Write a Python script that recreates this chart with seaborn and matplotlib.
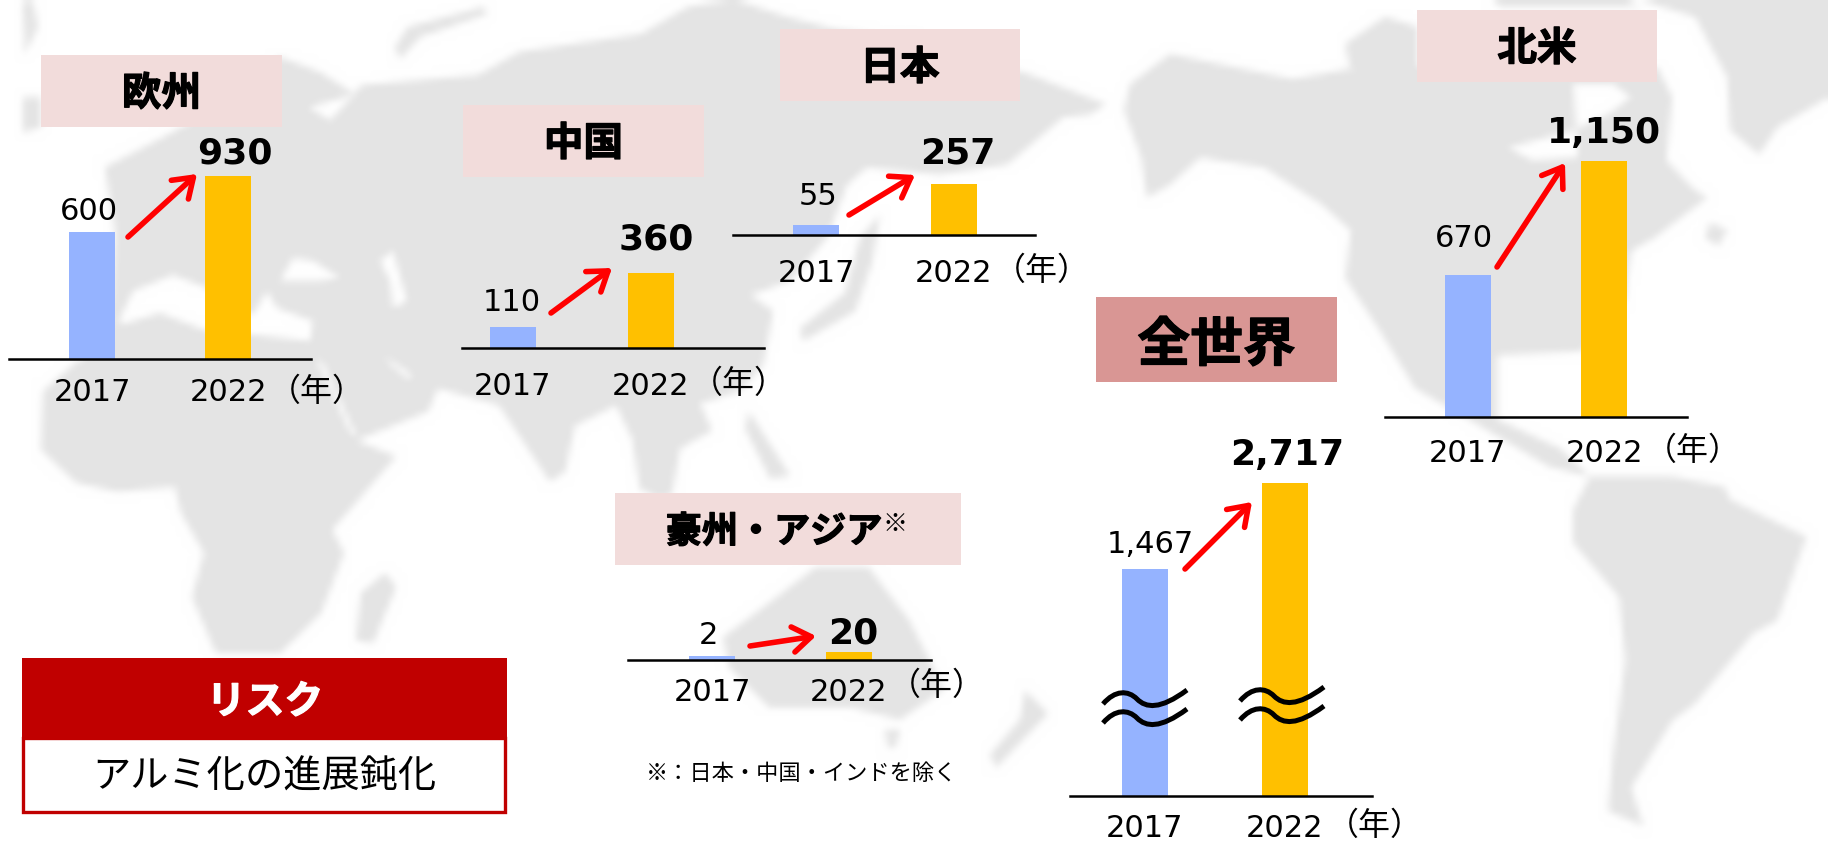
import numpy as np
import pandas as pd
import matplotlib
matplotlib.use('Agg')
import matplotlib.pyplot as plt
import matplotlib.patheffects as pe
import seaborn as sns
from matplotlib.backends.backend_agg import FigureCanvasAgg
from matplotlib.figure import Figure
from matplotlib.patches import PathPatch, Rectangle
from matplotlib.path import Path

regiones = ['欧州', '中国', '日本', '北米', '豪州・アジア', '全世界']
anios = ['2017', '2022']
valores_2017 = [600, 110, 55, 670, 2, 1467]
valores_2022 = [930, 360, 257, 1150, 20, 2717]
etiquetas_2017 = ['600', '110', '55', '670', '2', '1,467']
etiquetas_2022 = ['930', '360', '257', '1,150', '20', '2,717']

# the bars are not drawn from zero in the original (the world one has a break)
origen_eje = [147, -13, -6, -72, 16, 1829]

sns.set_theme(style='white')
FUENTE_JP = ['Noto Sans CJK JP', 'DejaVu Sans']
plt.rcParams['font.family'] = ['DejaVu Sans', 'Noto Sans CJK JP']

ANCHO, ALTO = 1828, 842
AZUL, NARANJA = '#95B3FF', '#FFC000'
ROJO = '#C00000'

# layout in pixels of the image, same order as regiones
linea_base = [359, 348, 235, 417, 660, 796]
tope_barra = [176, 273, 184, 161, 652, 483]
extremos_linea = [(9, 311), (462, 764), (733, 1035), (1385, 1687), (628, 931), (1070, 1372)]
centros_barra = [(92, 228), (513, 651), (816, 953.5), (1467.5, 1604), (712, 849), (1145, 1285)]
pos_etq_2017 = [(89, 220), (512, 311), (818, 205), (1464, 247), (708, 644), (1150, 553)]
pos_etq_2022 = [(235, 163), (656, 250), (958, 163), (1604, 143), (853, 643), (1287, 465)]
pad_ticks = [14, 17, 17, 16, 13, 13]
pos_nen = [(317, 392), (739, 384), (1042, 271), (1693, 451), (937, 686), (1375, 826)]
flechas = [((128, 237), (197, 174)), ((551, 313), (612, 268)), ((849, 215), (915, 175)),
           ((1497, 267), (1565, 163)), ((750, 646), (816, 636)), ((1185, 569), (1252, 502))]
cajas = [(41, 55, 241, 72), (463, 105, 241, 72), (780, 29, 240, 72),
         (1417, 10, 240, 72), (615, 493, 346, 72), (1096, 297, 241, 85)]

# faded world map behind everything, rough outlines
eurasia_africa = [(115, 232), (105, 170), (163, 140), (200, 120), (280, 60), (320, 75), (355, 97), (361, 88),
                  (478, 78), (519, 55), (641, 37), (688, 10), (734, 3), (787, 20), (839, 33), (914, 42),
                  (972, 60), (1031, 78), (1106, 107), (1090, 117), (1063, 120), (1007, 167), (940, 177),
                  (867, 170), (847, 187), (827, 240), (790, 283), (750, 297), (773, 313), (763, 367),
                  (739, 393), (700, 405), (712, 432), (680, 450), (672, 495), (660, 500), (640, 490),
                  (632, 440), (616, 407), (575, 427), (565, 473), (550, 483), (499, 407), (438, 390),
                  (428, 413), (361, 440), (356, 442), (396, 458), (332, 531), (344, 554), (321, 614),
                  (280, 654), (216, 654), (192, 598), (204, 554), (181, 514), (175, 488), (117, 493),
                  (76, 484), (41, 451), (43, 393), (75, 365), (110, 345)]
norteamerica = [(1170, 57), (1293, 82), (1398, 63), (1417, 70), (1657, 70), (1672, 100), (1666, 163),
                (1695, 193), (1707, 200), (1654, 240), (1631, 253), (1625, 300), (1581, 353), (1497, 357),
                (1497, 400), (1497, 421), (1560, 450), (1590, 478), (1549, 468), (1474, 424), (1415, 390),
                (1380, 333), (1345, 280), (1351, 233), (1322, 207), (1264, 170), (1200, 160), (1170, 187),
                (1147, 200), (1141, 160), (1124, 113), (1130, 87)]
sudamerica = [(1590, 478), (1573, 511), (1573, 544), (1619, 598), (1625, 661), (1613, 754), (1608, 811),
              (1643, 826), (1631, 788), (1672, 721), (1695, 704), (1753, 634), (1777, 621), (1806, 538),
              (1730, 501), (1724, 488), (1672, 478)]
australia = [(729, 668), (723, 638), (769, 604), (816, 568), (868, 568), (909, 621), (944, 690),
             (900, 720), (851, 708), (769, 708)]
tierras = [eurasia_africa, norteamerica, sudamerica, australia,
           [(1695, 20), (1727, 80), (1730, 133), (1759, 157), (1777, 130), (1828, 100), (1828, 0), (1630, 0)],
           [(1345, 47), (1385, 20), (1417, 30), (1417, 80), (1380, 70), (1350, 70)],
           [(1490, 0), (1620, 0), (1640, 10), (1500, 10)],
           [(1710, 225), (1727, 232), (1718, 248), (1705, 240)],
           [(385, 574), (396, 588), (373, 644), (356, 641), (361, 594)],
           [(880, 217), (872, 265), (855, 313), (803, 343), (800, 330), (845, 295), (860, 240)],
           [(749, 413), (790, 477), (770, 480), (745, 430)],
           [(1025, 691), (1048, 714), (996, 768), (990, 755), (1020, 720)],
           [(885, 730), (900, 730), (895, 748), (888, 748)],
           [(408, 30), (484, 10), (487, 17), (420, 40), (400, 62), (395, 50)],
           [(23, 5), (33, 5), (38, 30), (25, 57)], [(23, 100), (41, 100), (41, 130), (23, 135)]]
mares = [[(120, 320), (133, 293), (173, 277), (207, 290), (253, 317), (267, 293), (277, 310), (313, 323),
          (310, 343), (257, 337), (207, 333), (160, 315), (120, 327)],
         [(280, 283), (293, 260), (313, 263), (340, 280), (320, 283)],
         [(380, 263), (393, 253), (407, 303), (393, 310), (390, 283)],
         [(387, 360), (413, 377), (407, 380), (387, 363)],
         [(317, 363), (322, 363), (356, 436), (351, 436)],
         [(309, 110), (355, 97), (330, 123)],
         [(1573, 87), (1613, 87), (1631, 100), (1608, 117), (1573, 133), (1508, 150), (1532, 163), (1578, 160)]]


def dibujar_mapa(ax):
    # rendered small and scaled up, which gives the soft edges of the original
    fig_mapa = Figure(figsize=(ANCHO / 100, ALTO / 100), dpi=18)
    lienzo = FigureCanvasAgg(fig_mapa)
    ax_mapa = fig_mapa.add_axes([0, 0, 1, 1])
    ax_mapa.set_xlim(0, ANCHO)
    ax_mapa.set_ylim(ALTO, 0)
    ax_mapa.axis('off')
    for tierra in tierras:
        ax_mapa.fill(*zip(*tierra), color='#E4E4E4', lw=0)
    for mar in mares:
        ax_mapa.fill(*zip(*mar), color='white', lw=0)
    lienzo.draw()
    ax.imshow(np.asarray(lienzo.buffer_rgba()), extent=(0, ANCHO, ALTO, 0), interpolation='bicubic', aspect='auto')


def graficar_region(fig, i):
    izq, der = extremos_linea[i]
    c0, c1 = centros_barra[i]
    base, tope = linea_base[i], tope_barra[i]
    ax = fig.add_axes([izq / ANCHO, 1 - base / ALTO, (der - izq) / ANCHO, (base - tope) / ALTO], zorder=2)
    datos = pd.DataFrame({'anio': anios, 'valor': [valores_2017[i] + origen_eje[i], valores_2022[i] + origen_eje[i]]})
    sns.barplot(data=datos, x='anio', y='valor', hue='anio', palette=[AZUL, NARANJA], saturation=1,
                width=46 / (c1 - c0), legend=False, linewidth=0, ax=ax)
    ax.set_xlim((izq - c0) / (c1 - c0), (der - c0) / (c1 - c0))
    ax.set_ylim(0, valores_2022[i] + origen_eje[i])
    ax.set_xlabel('')
    ax.set_ylabel('')
    ax.set_yticks([])
    ax.patch.set_alpha(0)
    ax.tick_params(axis='x', length=0, pad=pad_ticks[i], labelsize=22, labelcolor='black')
    sns.despine(ax=ax, left=True)
    ax.spines['bottom'].set_color('black')
    ax.spines['bottom'].set_linewidth(1.8)


def ola(x, y):
    verts = [(x, y), (x + 12, y - 14), (x + 25, y - 14), (x + 34, y - 5), (x + 43, y + 4), (x + 57, y + 6), (x + 84, y - 14)]
    return Path(verts, [Path.MOVETO] + [Path.CURVE4] * 6)


def titulo(ax, x, y, texto, tam, color='black'):
    t = ax.text(x, y, texto, ha='center', va='center', fontsize=tam, fontweight='bold', color=color, family=FUENTE_JP)
    t.set_path_effects([pe.withStroke(linewidth=0.9, foreground=color)])


fig = plt.figure(figsize=(ANCHO / 100, ALTO / 100), dpi=100)
fondo = fig.add_axes([0, 0, 1, 1], zorder=0)
dibujar_mapa(fondo)
frente = fig.add_axes([0, 0, 1, 1], zorder=3)
frente.patch.set_alpha(0)
for ax in [fondo, frente]:
    ax.set_xlim(0, ANCHO)
    ax.set_ylim(ALTO, 0)
    ax.axis('off')

for i, region in enumerate(regiones):
    x, y, w, h = cajas[i]
    color_caja = '#D99694' if region == '全世界' else '#F2DCDB'
    fondo.add_patch(Rectangle((x, y), w, h, color=color_caja, lw=0))
    graficar_region(fig, i)
    if region == '豪州・アジア':
        titulo(frente, 774, y + h / 2 + 3, region, 26)
        frente.text(895, 524, '※', ha='center', va='center', fontsize=18, color='black', fontweight='bold', family=FUENTE_JP)
    elif region == '全世界':
        titulo(frente, x + w / 2, y + h / 2 + 6, region, 38)
    else:
        titulo(frente, x + w / 2, y + h / 2 + 3, region, 28.5)
    frente.text(*pos_etq_2017[i], etiquetas_2017[i], ha='center', va='baseline', fontsize=22, color='black')
    frente.text(*pos_etq_2022[i], etiquetas_2022[i], ha='center', va='baseline', fontsize=26, fontweight='bold', color='black')
    frente.text(*pos_nen[i], '（年）', ha='center', va='center', fontsize=23, color='black', family=FUENTE_JP)
    inicio, fin = flechas[i]
    frente.annotate('', xy=fin, xytext=inicio,
                    arrowprops=dict(arrowstyle='->,head_length=0.55,head_width=0.38', color='#FF0000', lw=4,
                                    mutation_scale=24, shrinkA=0, shrinkB=0))

# break marks on the world bars
for x, y in [(1103, 704), (1103, 723), (1240, 701), (1240, 720)]:
    frente.add_patch(PathPatch(ola(x, y), fc='none', ec='black', lw=3.6))

# risk box
fondo.add_patch(Rectangle((23, 738), 482, 74, fc='white', ec=ROJO, lw=2.4))
fondo.add_patch(Rectangle((22, 658), 485, 80, color=ROJO, lw=0))
titulo(frente, 265, 702, 'リスク', 28, color='white')
frente.text(264, 777, 'アルミ化の進展鈍化', ha='center', va='center', fontsize=27.5, color='black', family=FUENTE_JP)
frente.text(802, 774, '※：日本・中国・インドを除く', ha='center', va='center', fontsize=16, color='black', family=FUENTE_JP)

fig.savefig('out.png', dpi=100)
